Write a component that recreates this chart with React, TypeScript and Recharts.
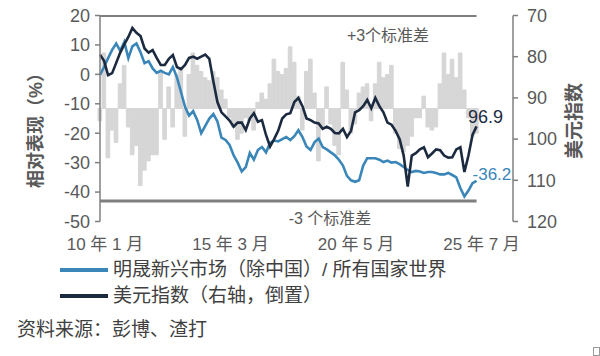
import React from 'react';
import { ComposedChart, Bar, Line, XAxis, YAxis, ReferenceLine } from 'recharts';

// months since 2010-01, one point every 2 months
const tickMonths = [0, 62, 124, 186];
const tickLabels = ['10 年 1 月', '15 年 3 月', '20 年 5 月', '25 年 7 月'];
const leftTicks = [-50, -40, -30, -20, -10, 0, 10, 20];
const rightTicks = [70, 80, 90, 100, 110, 120];

// MSCI EM ex China / ACWI relative performance (%)
const emVsWorld = [
  -0.2, 2.5, 5.5, 8.3, 10.5, 8, 11, 5.5, 9.5, 10.5,
  7.5, 3.8, 4.5, 2, 0.5, 1.2, 0.5, 0, 2.5, -1,
  -6, -11, -14, -12.5, -15.5, -20, -17.5, -15, -13.5, -16,
  -21.5, -22.3, -24, -27.5, -30, -33, -31.5, -26.7, -29, -25.7,
  -24.7, -26.5, -23.3, -22.5, -22.8, -22, -21.3, -22.3, -21, -19,
  -21.3, -24.5, -25.7, -23, -21.8, -24.7, -25.5, -26.5, -27.5, -29,
  -31, -34.5, -36, -36.5, -36, -31, -28.5, -28.5, -28.5, -29,
  -29.8, -29.3, -30, -29.8, -30.5, -31.5, -32.5, -33.2, -32.8, -33,
  -33.5, -33.2, -33.2, -33.5, -34, -34, -33.5, -34.2, -35, -38.6,
  -41.5, -39.5, -37, -36.2,
];

// DXY (right axis, inverted)
const dxy = [
  79.5, 81, 84.5, 84, 81.5, 79, 77, 75.2, 73, 74.2,
  75, 78, 79, 78.4, 80.3, 82, 82, 80.5, 79.6, 82.5,
  83, 82, 80.3, 80, 80.5, 80, 79.5, 80.5, 86, 91,
  93.5, 94.5, 95.5, 97, 96, 96, 97.8, 95, 93.7, 95.8,
  95.4, 99, 101.8, 100, 98, 95, 94, 93.7, 91, 90,
  92, 95, 95.4, 96, 96.2, 97.5, 97, 97.5, 98.5, 98.6,
  97.5, 99.5, 98, 93.5, 93, 92, 90.5, 92.5, 90, 92,
  93.5, 96, 96.5, 98, 100, 104, 111.5, 104, 103.4, 102.5,
  102, 104.4, 103.5, 102.5, 102.7, 104, 104.5, 104.4, 102.5, 102,
  108, 104, 99, 96.9,
];

// deviation in standard deviations (grey bars)
const sigma = [
  -0.4, 1.8, -1.6, -0.7, -1.1, 0.8, 1.4, -0.6, -1.5, -1.2,
  -2.5, -2.0, -1.7, -1.5, -1.5, 1.2, -1.0, 0.7, -0.6, 1.1,
  1.3, -0.9, 1.1, 1.8, 1.4, 1.2, 1.0, 0.9, 1.2, 1.0,
  0.6, 0.3, -0.3, -0.6, -1.0, -0.8, -0.3, -0.4, -0.7, 0.2,
  0.5, 0.3, 0.8, 1.6, 1.2, 1.1, 1.3, 2.0, 1.5, 0.4,
  -0.7, 1.2, 1.6, 0.5, -1.7, -0.6, 0.7, -0.5, -1.2, -1.5,
  1.5, 0.6, -0.8, -0.5, 0.5, 0.7, 0.8, -0.4, 0.8, 1.5,
  1.0, 1.1, 1.4, -0.8, -1.3, -1.4, -1.2, -0.9, -0.3, -0.3,
  0.4, -0.6, -0.7, -0.6, 0.8, 1.8, 1.1, 1.6, 1.0, 1.8,
  0.6, -0.3, -0.9, -0.8,
];

const data = emVsWorld.map((v, i) => ({ m: i * 2, em: v, dxy: dxy[i], z: sigma[i] }));
const lastIdx = emVsWorld.length - 1;
const lastMonth = data[lastIdx].m;

const BLUE = '#3A86B8';
const NAVY = '#1B2A3F';
const GREY = '#7F7F7F';
const BAR = '#D6D6D6';
const TEXT = '#595959';
const FONT = '"Liberation Sans", Arial, "Noto Sans CJK SC", sans-serif';

const XTick = ({ x, y, payload }: any) => {
  const i = tickMonths.indexOf(payload.value);
  return (
    <text x={x + 5} y={y + 20} textAnchor="middle" fontSize={17} fill={TEXT} fontFamily={FONT}>
      {tickLabels[i]}
    </text>
  );
};

const endLabel = (color: string, dx: number, dy: number, anchor: string, size: number) => (props: any) => {
  if (props.index !== lastIdx) return null;
  return (
    <text x={props.x + dx} y={props.y + dy} textAnchor={anchor} fontSize={size} fill={color} fontFamily={FONT}>
      {props.value}
    </text>
  );
};

const sigmaLabel = (text: string, dx: number, dy: number) => (props: any) => {
  const vb = props.viewBox || {};
  return (
    <text x={vb.x + dx} y={vb.y + dy} textAnchor="middle" fontSize={16} fill={TEXT} fontFamily={FONT}>
      {text}
    </text>
  );
};

export default function App() {
  return (
    <div style={{ position: 'absolute', left: 0, top: 0, width: 600, height: 356, background: '#fff', fontFamily: FONT, overflow: 'hidden' }}>
      <ComposedChart width={600} height={262} data={data} margin={{ top: 15.5, right: 37, bottom: 10.5, left: 40 }}>
        <XAxis dataKey="m" type="number" domain={[0, 204]} ticks={tickMonths} axisLine={false} tickLine={false} tick={<XTick />} height={30} interval={0} />
        <YAxis yAxisId="L" domain={[-50, 20]} ticks={leftTicks} width={60} tickSize={5} tickMargin={5}
          axisLine={{ stroke: GREY, strokeWidth: 1.5 }} tickLine={{ stroke: GREY, strokeWidth: 1.5 }}
          tick={{ fontSize: 18, fill: TEXT, fontFamily: FONT }} interval={0} />
        <YAxis yAxisId="R" orientation="right" reversed domain={[70, 120]} ticks={rightTicks} width={50} tickSize={5} tickMargin={9}
          axisLine={{ stroke: GREY, strokeWidth: 1.5 }} tickLine={{ stroke: GREY, strokeWidth: 1.5 }}
          tick={{ fontSize: 18, fill: TEXT, fontFamily: FONT, textAnchor: 'start' }} interval={0} />
        <YAxis yAxisId="Z" hide domain={[-3.665, 3.016]} allowDataOverflow />
        <Bar yAxisId="Z" dataKey="z" fill={BAR} stroke={BAR} strokeWidth={1} barSize={5} isAnimationActive={false} />
        <ReferenceLine yAxisId="Z" segment={[{ x: 0, y: 3 }, { x: lastMonth, y: 3 }]} stroke={GREY} strokeWidth={2}
          label={sigmaLabel('+3个标准差', 288, 25)} />
        <ReferenceLine yAxisId="Z" segment={[{ x: 0, y: -3 }, { x: lastMonth, y: -3 }]} stroke={GREY} strokeWidth={3}
          label={sigmaLabel('-3 个标准差', 230, 23)} />
        <Line yAxisId="L" dataKey="em" stroke={BLUE} strokeWidth={2.6} dot={false} isAnimationActive={false}
          label={endLabel(BLUE, -4, -1, 'start', 17)} />
        <Line yAxisId="R" dataKey="dxy" stroke={NAVY} strokeWidth={2.6} dot={false} isAnimationActive={false}
          label={endLabel(NAVY, 9, -3, 'middle', 18)} />
      </ComposedChart>

      <div style={{ position: 'absolute', left: 34, top: 126, transform: 'translate(-50%, -50%) rotate(-90deg)', whiteSpace: 'nowrap', fontSize: 18, fontWeight: 700, color: TEXT }}>
        相对表现（%）
      </div>
      <div style={{ position: 'absolute', left: 572, top: 121, transform: 'translate(-50%, -50%) rotate(-90deg)', whiteSpace: 'nowrap', fontSize: 19, fontWeight: 700, color: TEXT }}>
        美元指数
      </div>

      <div style={{ position: 'absolute', left: 60, top: 257, fontSize: 19, color: '#404040', lineHeight: '26px' }}>
        <div style={{ display: 'flex', alignItems: 'center' }}>
          <span style={{ display: 'inline-block', width: 48, height: 4, background: BLUE, marginRight: 5 }} />
          明晟新兴市场（除中国）/ 所有国家世界
        </div>
        <div style={{ display: 'flex', alignItems: 'center' }}>
          <span style={{ display: 'inline-block', width: 48, height: 4, background: NAVY, marginRight: 5 }} />
          美元指数（右轴，倒置）
        </div>
      </div>
      <div style={{ position: 'absolute', left: 17, top: 317, fontSize: 19, color: '#404040', lineHeight: '26px' }}>
        资料来源：彭博、渣打
      </div>
      <div style={{ position: 'absolute', left: 593, top: 347, width: 7, height: 9, border: '1px solid #9a9a9a', boxSizing: 'border-box' }} />
    </div>
  );
}
